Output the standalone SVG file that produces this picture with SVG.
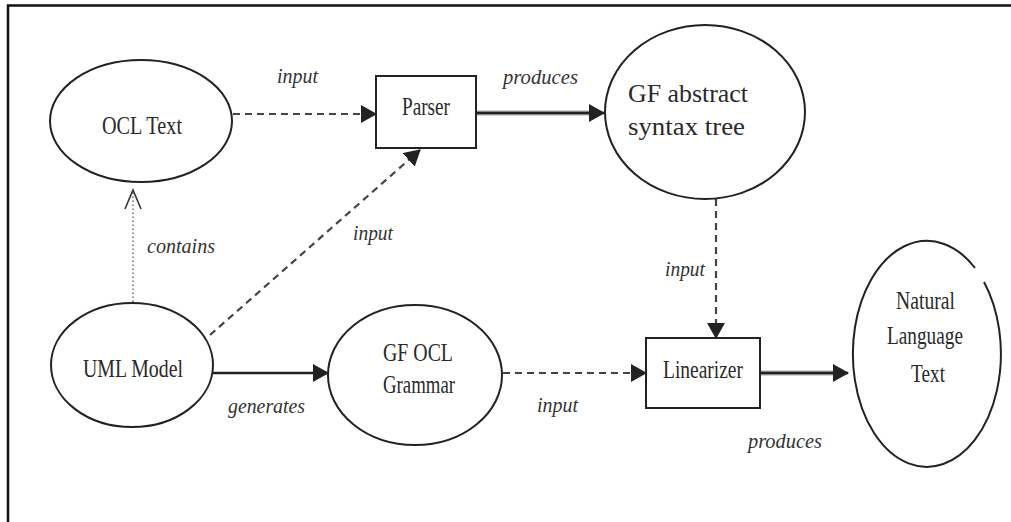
<svg xmlns="http://www.w3.org/2000/svg" width="1011" height="522" viewBox="0 0 1011 522">
  <defs>
    <marker id="tri" markerUnits="userSpaceOnUse" markerWidth="17" markerHeight="20" refX="15" refY="9" orient="auto">
      <path d="M0,0 L16,9 L0,18 Z" fill="#222"/>
    </marker>
    <marker id="open" markerUnits="userSpaceOnUse" markerWidth="22" markerHeight="22" refX="20" refY="10" orient="auto">
      <path d="M1,2 L20,10 L1,18" fill="none" stroke="#333" stroke-width="1.6"/>
    </marker>
  </defs>
  <style>
    .node { fill: #fff; stroke: #222; stroke-width: 2; }
    .name { font-family: "Liberation Serif", "Times New Roman", serif; font-size: 26px; fill: #2a2a2a; }
    .lbl { font-family: "Liberation Serif", "Times New Roman", serif; font-size: 21px; font-style: italic; fill: #333; }
    .dash { fill: none; stroke: #444; stroke-width: 2.2; stroke-dasharray: 7 5; }
    .dot { fill: none; stroke: #555; stroke-width: 1.3; stroke-dasharray: 1.5 2.5; }
    .solid { fill: none; stroke: #222; stroke-width: 2.5; }
    .halo { fill: none; stroke: #aaa; stroke-width: 5; }
  </style>

  <rect width="1011" height="522" fill="#fff"/>
  <!-- frame -->
  <path d="M8,522 V5.5 H1011" fill="none" stroke="#111" stroke-width="2.5"/>

  <!-- connectors -->
  <g id="connectors">
    <path class="dash" d="M233,114 H376" marker-end="url(#tri)"/>
    <path class="halo" d="M477,113 H590"/>
    <path class="solid" d="M477,113 H604" stroke-width="1.6" marker-end="url(#tri)"/>
    <path class="dot" d="M133,302 V190" marker-end="url(#open)"/>
    <path class="dash" d="M210,335 L420,150" marker-end="url(#tri)"/>
    <path class="solid" d="M213,373 H328" marker-end="url(#tri)"/>
    <path class="dash" d="M503,373 H646" marker-end="url(#tri)"/>
    <path class="dash" d="M716,199 V338" marker-end="url(#tri)"/>
    <path class="halo" d="M761,373 H835" stroke-width="4"/>
    <path class="solid" d="M761,373 H848" stroke-width="1.5" marker-end="url(#tri)"/>

    <text class="lbl" x="277" y="83" textLength="41" lengthAdjust="spacingAndGlyphs">input</text>
    <text class="lbl" x="503" y="84" textLength="75" lengthAdjust="spacingAndGlyphs">produces</text>
    <text class="lbl" x="147" y="253" textLength="68" lengthAdjust="spacingAndGlyphs">contains</text>
    <text class="lbl" x="353" y="240" textLength="40" lengthAdjust="spacingAndGlyphs">input</text>
    <text class="lbl" x="665" y="276" textLength="40" lengthAdjust="spacingAndGlyphs">input</text>
    <text class="lbl" x="228" y="413" textLength="77" lengthAdjust="spacingAndGlyphs">generates</text>
    <text class="lbl" x="537" y="412" textLength="41" lengthAdjust="spacingAndGlyphs">input</text>
    <text class="lbl" x="748" y="448" textLength="74" lengthAdjust="spacingAndGlyphs">produces</text>
  </g>

  <g id="ocl-text">
    <ellipse class="node" cx="141" cy="121" rx="91" ry="61"/>
    <text class="name" x="102" y="134" textLength="80" lengthAdjust="spacingAndGlyphs">OCL Text</text>
  </g>

  <g id="parser">
    <rect class="node" x="376" y="76" width="100" height="72"/>
    <text class="name" x="402" y="115" textLength="48" lengthAdjust="spacingAndGlyphs">Parser</text>
  </g>

  <g id="gf-ast">
    <ellipse class="node" cx="705" cy="112" rx="100" ry="87"/>
    <text class="name" x="628" y="102" textLength="120" lengthAdjust="spacingAndGlyphs">GF abstract</text>
    <text class="name" x="628" y="135" textLength="117" lengthAdjust="spacingAndGlyphs">syntax tree</text>
  </g>

  <g id="uml-model">
    <ellipse class="node" cx="132" cy="365" rx="81" ry="62"/>
    <text class="name" x="83" y="377" textLength="100" lengthAdjust="spacingAndGlyphs">UML Model</text>
  </g>

  <g id="gf-ocl-grammar">
    <ellipse class="node" cx="415" cy="375" rx="87" ry="70"/>
    <text class="name" x="383" y="361" textLength="70" lengthAdjust="spacingAndGlyphs">GF OCL</text>
    <text class="name" x="383" y="393" textLength="72" lengthAdjust="spacingAndGlyphs">Grammar</text>
  </g>

  <g id="linearizer">
    <rect class="node" x="646" y="338" width="114" height="70"/>
    <text class="name" x="663" y="378" textLength="80" lengthAdjust="spacingAndGlyphs">Linearizer</text>
  </g>

  <g id="natural-language-text">
    <!-- outline left open near the upper right -->
    <path class="node" d="M984,282 A74,113 0 1 1 975,268"/>
    <text class="name" x="896" y="309" textLength="59" lengthAdjust="spacingAndGlyphs">Natural</text>
    <text class="name" x="887" y="344" textLength="76" lengthAdjust="spacingAndGlyphs">Language</text>
    <text class="name" x="911" y="382" textLength="34" lengthAdjust="spacingAndGlyphs">Text</text>
  </g>
</svg>
